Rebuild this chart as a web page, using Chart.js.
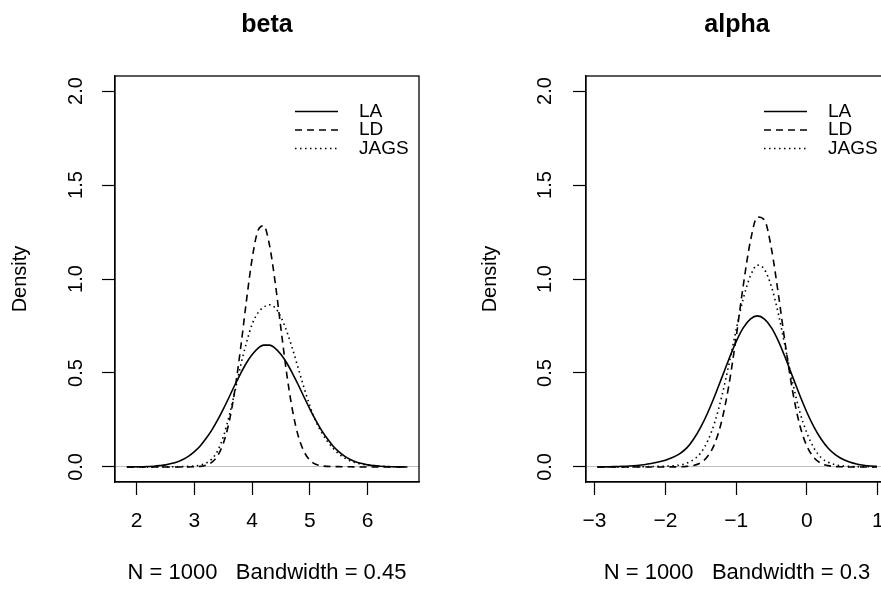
<!DOCTYPE html>
<html>
<head>
<meta charset="utf-8">
<script src="https://cdn.jsdelivr.net/npm/chart.js@4.4.1/dist/chart.umd.min.js"></script>
<style>
  html, body { margin: 0; padding: 0; background: #fff; }
  body { width: 881px; height: 608px; position: relative; overflow: hidden; }
  .panel { position: absolute; top: 0; }
</style>
</head>
<body>
<div class="panel" style="left:0"><canvas id="betaChart" width="440" height="608"></canvas></div>
<div class="panel" style="left:440px"><canvas id="alphaChart" width="470" height="608"></canvas></div>
<script>
const seriesNames = ["LA", "LD", "JAGS"];
const yTicks = [0, 0.5, 1, 1.5, 2];

// beta panel
const betaXTicks = [2, 3, 4, 5, 6];
const betaX = [1.83, 1.9, 2.0, 2.1, 2.2, 2.3, 2.4, 2.5, 2.6, 2.7, 2.8, 2.9,
  3.0, 3.1, 3.2, 3.3, 3.4, 3.5, 3.6, 3.7, 3.8, 3.9, 4.0, 4.1, 4.2, 4.3, 4.4,
  4.5, 4.6, 4.7, 4.8, 4.9, 5.0, 5.1, 5.2, 5.3, 5.4, 5.5, 5.6, 5.7, 5.8, 5.9,
  6.0, 6.1, 6.2, 6.3, 6.4, 6.5, 6.6, 6.69];
const betaLA = [0, 0.0005, 0.0008, 0.0015, 0.0025, 0.004, 0.007, 0.011, 0.018, 0.027, 0.040, 0.058,
  0.082, 0.112, 0.151, 0.196, 0.249, 0.308, 0.371, 0.436, 0.497, 0.553, 0.598, 0.631, 0.648, 0.648, 0.631,
  0.598, 0.553, 0.497, 0.436, 0.371, 0.308, 0.249, 0.196, 0.151, 0.112, 0.082, 0.058, 0.040, 0.027, 0.018,
  0.011, 0.007, 0.004, 0.0025, 0.0015, 0.0008, 0.0005, 0];
const betaLD = [0, 0, 0, 0, 0, 0, 0, 0, 0, 0, 0, 0,
  0.001, 0.003, 0.010, 0.025, 0.059, 0.125, 0.238, 0.409, 0.632, 0.882, 1.109, 1.257, 1.283, 1.180, 0.979,
  0.732, 0.493, 0.299, 0.163, 0.081, 0.036, 0.014, 0.006, 0.003, 0.002, 0.002, 0.001, 0.001, 0, 0,
  0, 0, 0, 0, 0, 0, 0, 0];
const betaJAGS = [0, 0, 0, 0, 0, 0, 0, 0.0005, 0.001, 0.001, 0.002, 0.003,
  0.005, 0.010, 0.020, 0.042, 0.085, 0.160, 0.270, 0.400, 0.540, 0.660, 0.760, 0.820, 0.850, 0.863, 0.846,
  0.797, 0.721, 0.627, 0.523, 0.420, 0.324, 0.245, 0.185, 0.138, 0.100, 0.070, 0.048, 0.032, 0.022, 0.015,
  0.010, 0.007, 0.005, 0.003, 0.002, 0.001, 0.001, 0];

// alpha panel
const alphaXTicks = [-3, -2, -1, 0, 1];
const alphaX = [-2.96, -2.9, -2.8, -2.7, -2.6, -2.5, -2.4, -2.3, -2.2, -2.1, -2.0,
  -1.9, -1.8, -1.7, -1.6, -1.5, -1.4, -1.3, -1.2, -1.1, -1.0,
  -0.9, -0.8, -0.7, -0.6, -0.5, -0.4, -0.3, -0.2, -0.1, 0.0,
  0.1, 0.2, 0.3, 0.4, 0.5, 0.6, 0.7, 0.8, 0.9, 0.99];
const alphaLA = [0, 0.0005, 0.001, 0.002, 0.003, 0.005, 0.008, 0.012, 0.018, 0.026, 0.036,
  0.050, 0.070, 0.100, 0.149, 0.212, 0.290, 0.380, 0.478, 0.576, 0.667,
  0.740, 0.787, 0.804, 0.787, 0.740, 0.667, 0.576, 0.478, 0.380, 0.290,
  0.212, 0.149, 0.100, 0.066, 0.042, 0.026, 0.016, 0.009, 0.005, 0.003];
const alphaLD = [0, 0, 0, 0, 0, 0, 0, 0, 0, 0, 0,
  0.0005, 0.001, 0.003, 0.008, 0.023, 0.058, 0.127, 0.251, 0.441, 0.691,
  0.964, 1.199, 1.330, 1.314, 1.158, 0.910, 0.637, 0.398, 0.221, 0.110,
  0.049, 0.019, 0.007, 0.002, 0.001, 0, 0, 0, 0, 0];
const alphaJAGS = [0, 0, 0, 0, 0, 0.0005, 0.001, 0.001, 0.002, 0.003, 0.004,
  0.006, 0.010, 0.020, 0.040, 0.075, 0.140, 0.240, 0.380, 0.550, 0.730,
  0.895, 1.015, 1.074, 1.051, 0.957, 0.809, 0.625, 0.445, 0.292, 0.180,
  0.100, 0.050, 0.025, 0.012, 0.006, 0.003, 0.002, 0.001, 0.001, 0];

const font = '"Liberation Sans", Arial, Helvetica, sans-serif';
Chart.defaults.font.family = font;
Chart.defaults.color = "#000";

const lineStyles = [[], [7, 5], [1.5, 3.5]];

const boxPlugin = {
  id: "plotBox",
  afterDraw(chart) {
    const { ctx, chartArea: a } = chart;
    ctx.save();
    ctx.strokeStyle = "#000";
    ctx.lineWidth = 1.3;
    ctx.strokeRect(a.left, a.top, a.right - a.left, a.bottom - a.top);
    ctx.restore();
  }
};

const cornerLegend = {
  id: "cornerLegend",
  afterDatasetsDraw(chart) {
    const { ctx, chartArea: a } = chart;
    ctx.save();
    ctx.font = "19px " + font;
    ctx.textBaseline = "middle";
    ctx.textAlign = "left";
    chart.data.datasets.forEach((ds, i) => {
      const y = a.top + 35.5 + i * 18.5;
      ctx.strokeStyle = ds.borderColor;
      ctx.lineWidth = ds.borderWidth;
      ctx.setLineDash(ds.borderDash);
      ctx.beginPath();
      ctx.moveTo(a.right - 124, y);
      ctx.lineTo(a.right - 81, y);
      ctx.stroke();
      ctx.setLineDash([]);
      ctx.fillStyle = "#000";
      ctx.fillText(ds.label, a.right - 60, y);
    });
    ctx.restore();
  }
};

function tickText(v) {
  return v < 0 ? "\u2212" + Math.abs(v) : String(v);
}

function makePanel(id, cfg) {
  const datasets = cfg.series.map((ys, i) => ({
    label: seriesNames[i],
    data: cfg.xs.map((x, j) => ({ x: x, y: ys[j] })),
    borderColor: "#000",
    borderWidth: 1.6,
    borderDash: lineStyles[i],
    pointRadius: 0,
    fill: false,
    cubicInterpolationMode: "monotone"
  }));

  return new Chart(document.getElementById(id), {
    type: "line",
    data: { datasets },
    plugins: [boxPlugin, cornerLegend],
    options: {
      responsive: false,
      animation: false,
      devicePixelRatio: 1,
      events: [],
      layout: { padding: { left: 0, right: cfg.rightPad, top: 0, bottom: 0 } },
      plugins: {
        legend: { display: false },
        tooltip: { enabled: false },
        title: {
          display: true,
          text: cfg.title,
          fullSize: false,
          font: { size: 25, weight: "bold" },
          padding: { top: 10, bottom: 36 }
        }
      },
      scales: {
        x: {
          type: "linear",
          min: cfg.xMin,
          max: cfg.xMax,
          afterBuildTicks: s => { s.ticks = cfg.xTicks.map(v => ({ value: v })); },
          afterFit: s => { s.height = 126; },
          grid: { drawOnChartArea: false, tickLength: 13, tickColor: "#000", tickWidth: 1.2 },
          border: { display: true, color: "#000", width: 1.2 },
          ticks: { padding: 14, font: { size: 21 }, maxRotation: 0, autoSkip: false, callback: tickText },
          title: { display: true, text: cfg.sub, font: { size: 22 }, padding: { top: 0, bottom: 22 } }
        },
        y: {
          type: "linear",
          min: -0.08,
          max: 2.08,
          afterBuildTicks: s => { s.ticks = yTicks.map(v => ({ value: v })); },
          afterFit: s => { s.width = cfg.yWidth; },
          grid: {
            color: c => (c.tick && c.tick.value === 0 ? "#bebebe" : "rgba(0,0,0,0)"),
            lineWidth: 1,
            tickLength: 13,
            tickColor: "#000",
            tickWidth: 1.2
          },
          border: { display: true, color: "#000", width: 1.2 },
          ticks: {
            padding: cfg.tickPad,
            font: { size: 20 },
            minRotation: 90,
            maxRotation: 90,
            crossAlign: "center",
            callback: v => Number(v).toFixed(1)
          },
          title: { display: true, text: "Density", font: { size: 20 }, padding: { top: cfg.titlePad, bottom: 0 } }
        }
      }
    }
  });
}

makePanel("betaChart", {
  title: "beta",
  sub: "N = 1000   Bandwidth = 0.45",
  xs: betaX,
  series: [betaLA, betaLD, betaJAGS],
  xTicks: betaXTicks,
  xMin: 1.624,
  xMax: 6.89,
  yWidth: 115,
  rightPad: 21,
  tickPad: 12,
  titlePad: 8.7
});

makePanel("alphaChart", {
  title: "alpha",
  sub: "N = 1000   Bandwidth = 0.3",
  xs: alphaX,
  series: [alphaLA, alphaLD, alphaJAGS],
  xTicks: alphaXTicks,
  xMin: -3.121,
  xMax: 1.145,
  yWidth: 146,
  rightPad: 22,
  tickPad: 14,
  titlePad: 38.7
});
</script>
</body>
</html>
